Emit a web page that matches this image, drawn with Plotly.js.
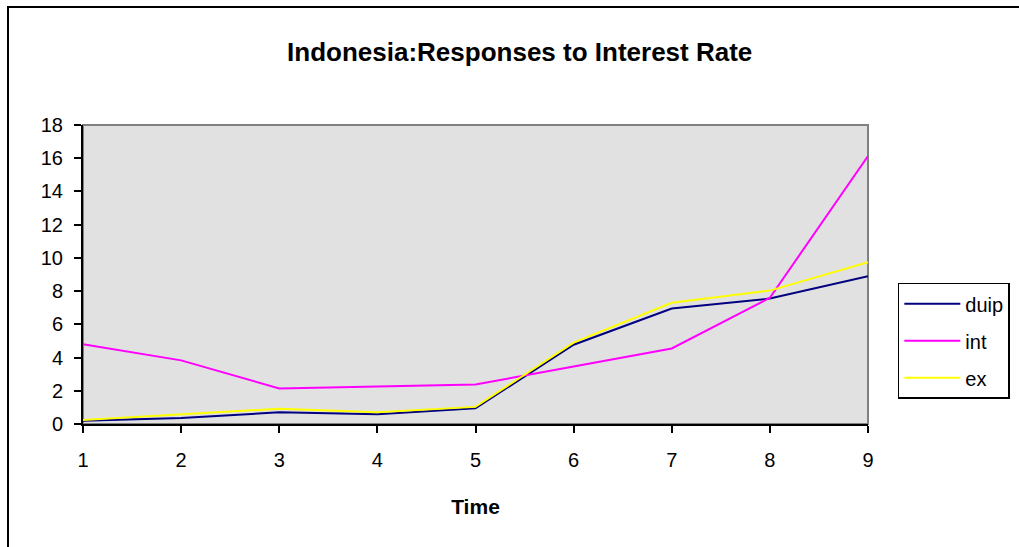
<!DOCTYPE html>
<html>
<head>
<meta charset="utf-8">
<script src="https://cdn.plot.ly/plotly-3.0.1.min.js"></script>
<style>
  html, body { margin: 0; padding: 0; background: #fff; overflow: hidden; }
  #wrap { position: relative; width: 1019px; height: 547px; overflow: hidden; }
  #chart { width: 1019px; height: 547px; }
  /* outer chart-area frame: only the left and top edges fall inside the window */
  #frame { position: absolute; left: 7px; top: 6px; width: 1100px; height: 600px; z-index: 3;
           border-left: 2px solid #000; border-top: 2px solid #000; pointer-events: none; }
</style>
</head>
<body>
<div id="wrap">
  <div id="chart"></div>
  <div id="frame"></div>
</div>
<script>
/* Indonesia: responses to interest rate shock, periods 1..9 */
const periods = [1, 2, 3, 4, 5, 6, 7, 8, 9];
const duip = [0.2, 0.36, 0.70, 0.58, 0.95, 4.77, 6.95, 7.55, 8.9];
const intr = [4.8, 3.83, 2.14, 2.26, 2.38, 3.46, 4.55, 7.6, 16.13];
const ex   = [0.24, 0.56, 0.92, 0.70, 1.03, 4.9, 7.3, 8.03, 9.74];
const yTicks = [0, 2, 4, 6, 8, 10, 12, 14, 16, 18];

const FONT = 'Arial, "Liberation Sans", sans-serif';

const series = [
  { name: 'duip', y: duip, color: '#000080' },
  { name: 'int',  y: intr, color: '#FF00FF' },
  { name: 'ex',   y: ex,   color: '#FFFF00' }
];

const traces = series.map(s => ({
  x: periods, y: s.y, name: s.name, legendgroup: s.name,
  type: 'scatter', mode: 'lines',
  line: { color: s.color, width: 2 }
}));

const layout = {
  width: 1019, height: 547,
  font: { family: FONT, size: 20, color: '#000' },
  paper_bgcolor: '#fff',
  plot_bgcolor: '#E1E1E1',
  margin: { l: 83, r: 151, t: 125, b: 122.5, autoexpand: false },
  title: {
    text: '<b>Indonesia:Responses to Interest Rate</b>',
    font: { family: FONT, size: 26, color: '#000' },
    x: 0.51, xanchor: 'center', y: 0.905, yanchor: 'middle'
  },
  xaxis: {
    range: [1, 9], tickvals: periods, ticktext: periods.map(String),
    tickfont: { size: 20 },
    showgrid: false, zeroline: false,
    showline: true, linecolor: '#000', linewidth: 2,
    ticks: 'outside', ticklen: 7, tickwidth: 2, tickcolor: '#000',
    ticklabelstandoff: 10,
    title: { text: '<b>Time</b>', font: { size: 21 }, standoff: 29 }
  },
  yaxis: {
    range: [0, 18], tickvals: yTicks, ticktext: yTicks.map(String),
    tickfont: { size: 20 },
    showgrid: false, zeroline: false,
    showline: true, linecolor: '#000', linewidth: 2,
    ticks: 'outside', ticklen: 7, tickwidth: 2, tickcolor: '#000',
    ticklabelstandoff: 7
  },
  legend: {
    x: 1.038, xanchor: 'left', y: 0.472, yanchor: 'top',
    bgcolor: '#fff', bordercolor: '#000', borderwidth: 1.5,
    font: { size: 20 }, tracegroupgap: 8, itemwidth: 56
  },
  shapes: [
    { type: 'rect', xref: 'paper', yref: 'paper', x0: 0, x1: 1, y0: 0, y1: 1,
      line: { color: '#808080', width: 2 }, layer: 'below' }
  ],
  showlegend: true
};

Plotly.newPlot('chart', traces, layout, { displayModeBar: false, staticPlot: true });
</script>
</body>
</html>
